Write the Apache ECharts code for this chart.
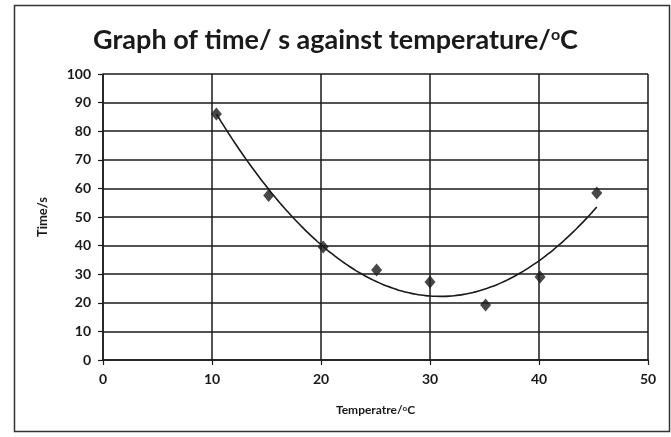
<!DOCTYPE html>
<html>
<head>
<meta charset="utf-8">
<script src="https://cdn.jsdelivr.net/npm/echarts@6/dist/echarts.min.js"></script>
<style>
  html, body { margin: 0; padding: 0; background: #fff; }
  #chart { width: 671px; height: 437px; }
</style>
</head>
<body>
<div id="chart"></div>
<script>
// Measured temperature (°C) and reaction time (s)
const temperature = [10.4, 15.2, 20.2, 25.1, 30.0, 35.1, 40.1, 45.3];
const time = [86, 57.5, 39.5, 31.5, 27.3, 19.2, 29, 58.4];

const xTicks = [0, 10, 20, 30, 40, 50];
const yTicks = [0, 10, 20, 30, 40, 50, 60, 70, 80, 90, 100];

// Second-order least-squares trendline through the measurements
function quadFit(xs, ys) {
  let n = xs.length, s = [0, 0, 0, 0, 0], t = [0, 0, 0];
  for (let i = 0; i < n; i++) {
    const x = xs[i], y = ys[i];
    for (let k = 0; k <= 4; k++) s[k] += Math.pow(x, k);
    for (let k = 0; k <= 2; k++) t[k] += y * Math.pow(x, k);
  }
  const A = [[s[0], s[1], s[2], t[0]], [s[1], s[2], s[3], t[1]], [s[2], s[3], s[4], t[2]]];
  for (let c = 0; c < 3; c++) {
    for (let r = c + 1; r < 3; r++) {
      const f = A[r][c] / A[c][c];
      for (let k = c; k < 4; k++) A[r][k] -= f * A[c][k];
    }
  }
  const b = [0, 0, 0];
  for (let r = 2; r >= 0; r--) {
    let v = A[r][3];
    for (let k = r + 1; k < 3; k++) v -= A[r][k] * b[k];
    b[r] = v / A[r][r];
  }
  return b;
}
const coef = quadFit(temperature, time);
const xMin = temperature[0], xMax = temperature[temperature.length - 1];
const trend = [];
for (let i = 0; i <= 80; i++) {
  const x = xMin + (xMax - xMin) * i / 80;
  trend.push([x, coef[0] + coef[1] * x + coef[2] * x * x]);
}

const ink = '#1a1a1a';
const chart = echarts.init(document.getElementById('chart'));
chart.setOption({
  backgroundColor: '#fff',
  animation: false,
  graphic: [{
    type: 'rect',
    shape: { x: 14.5, y: 5.5, width: 655, height: 426 },
    style: { fill: 'none', stroke: '#333', lineWidth: 1.5 }
  }],
  title: {
    text: 'Graph of time/ s against temperature/{sup|o}C',
    left: 'center',
    top: 22,
    textStyle: {
      fontFamily: 'Lato',
      fontWeight: 'bold',
      fontSize: 27,
      color: ink,
      rich: {
        sup: { fontFamily: 'Lato', fontWeight: 'bold', fontSize: 16, color: ink, verticalAlign: 'top', padding: [0, 0, 11, 0] }
      }
    }
  },
  grid: { left: 103, right: 23, top: 74, bottom: 77 },
  xAxis: {
    type: 'value',
    min: xTicks[0],
    max: xTicks[xTicks.length - 1],
    interval: 10,
    name: 'Temperatre/{sup|o}C',
    nameLocation: 'middle',
    nameGap: 44,
    nameTextStyle: {
      fontFamily: 'Lato', fontWeight: 'bold', fontSize: 12, color: ink,
      rich: { sup: { fontFamily: 'Lato', fontWeight: 'bold', fontSize: 8, color: ink, verticalAlign: 'top', padding: [0, 0, 5, 0] } }
    },
    axisLine: { show: true, lineStyle: { color: ink, width: 1.5 } },
    axisTick: { show: true, length: 5, lineStyle: { color: ink, width: 1.2 } },
    axisLabel: { fontFamily: 'Lato', fontWeight: 'bold', fontSize: 14, color: ink, margin: 12 },
    splitLine: { show: true, lineStyle: { color: ink, width: 1.5 } }
  },
  yAxis: {
    type: 'value',
    min: yTicks[0],
    max: yTicks[yTicks.length - 1],
    interval: 10,
    name: 'Time/s',
    nameLocation: 'middle',
    nameGap: 54,
    nameRotate: 90,
    nameTextStyle: { fontFamily: 'Lato', fontWeight: 'bold', fontSize: 13, color: ink },
    axisLine: { show: true, lineStyle: { color: ink, width: 1.5 } },
    axisTick: { show: true, length: 5, lineStyle: { color: ink, width: 1.2 } },
    axisLabel: { fontFamily: 'Lato', fontWeight: 'bold', fontSize: 14, color: ink, margin: 12 },
    splitLine: { show: true, lineStyle: { color: ink, width: 1.5 } }
  },
  series: [
    {
      type: 'line',
      data: trend,
      smooth: true,
      showSymbol: false,
      lineStyle: { color: ink, width: 1.6 },
      z: 2
    },
    {
      type: 'scatter',
      data: temperature.map((x, i) => [x, time[i]]),
      symbol: 'diamond',
      symbolSize: [11, 13],
      itemStyle: { color: ink },
      z: 3
    }
  ]
});
</script>
</body>
</html>
